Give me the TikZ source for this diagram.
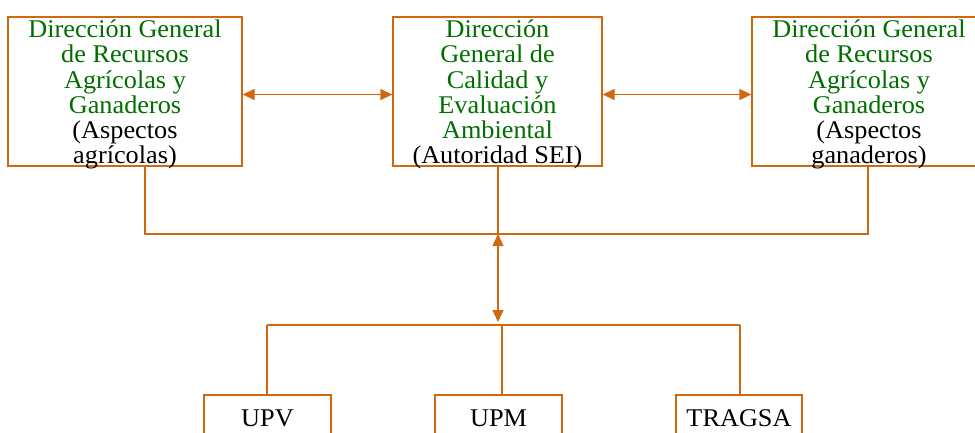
\documentclass[tikz,border=0pt]{standalone}
\usepackage{fontspec}
\setmainfont{Liberation Serif}[FakeStretch=1.03]
\usetikzlibrary{arrows.meta}
\definecolor{lineor}{RGB}{208,104,16}
\definecolor{txtgreen}{RGB}{0,110,0}
\tikzset{
  boxnode/.style={draw=lineor, line width=1.3pt, rectangle, inner sep=0pt},
  labeltext/.style={inner sep=0pt, align=center, font=\fontsize{25.5pt}{25.3pt}\selectfont},
  conn/.style={draw=lineor, line width=1.3pt},
  dbl/.style={conn, {Triangle[length=12pt,width=11pt]}-{Triangle[length=12pt,width=11pt]}}
}
\begin{document}
\begin{tikzpicture}[x=1pt,y=1pt]
\clip (0,0) rectangle (975,-432);
% top boxes
\node[boxnode, minimum width=234pt, minimum height=149pt] (L) at (125,-91.5) {};
\node[boxnode, minimum width=209pt, minimum height=149pt] (M) at (497.5,-91.5) {};
\node[boxnode, minimum width=234pt, minimum height=149pt] (R) at (869,-91.5) {};
\node[labeltext, anchor=north] (Lt) at (125,-19.5) {\textcolor{txtgreen}{Dirección General}\\\textcolor{txtgreen}{de Recursos}\\\textcolor{txtgreen}{Agrícolas y}\\\textcolor{txtgreen}{Ganaderos}\\(Aspectos\\agrícolas)};
\node[labeltext, anchor=north] (Mt) at (497.5,-19.5) {\textcolor{txtgreen}{Dirección}\\\textcolor{txtgreen}{General de}\\\textcolor{txtgreen}{Calidad y}\\\textcolor{txtgreen}{Evaluación}\\\textcolor{txtgreen}{Ambiental}\\(Autoridad SEI)};
\node[labeltext, anchor=north] (Rt) at (869,-19.5) {\textcolor{txtgreen}{Dirección General}\\\textcolor{txtgreen}{de Recursos}\\\textcolor{txtgreen}{Agrícolas y}\\\textcolor{txtgreen}{Ganaderos}\\(Aspectos\\ganaderos)};
% bottom boxes
\node[boxnode, minimum width=127pt, minimum height=70pt] (B1) at (267.5,-430) {};
\node[boxnode, minimum width=127pt, minimum height=70pt] (B2) at (498.5,-430) {};
\node[boxnode, minimum width=126pt, minimum height=70pt] (B3) at (739,-430) {};
\node[labeltext, anchor=base] (B1t) at (267.5,-426) {UPV};
\node[labeltext, anchor=base] (B2t) at (498.5,-426) {UPM};
\node[labeltext, anchor=base] (B3t) at (739,-426) {TRAGSA};
% horizontal double arrows
\draw[dbl] ([yshift=-3pt]L.east) -- ([yshift=-3pt]M.west);
\draw[dbl] ([yshift=-3pt]M.east) -- ([yshift=-3pt]R.west);
% upper junction
\coordinate (hL) at (145,-234);
\coordinate (hM) at (498,-234);
\coordinate (hR) at (868,-234);
\draw[conn] (hL |- L.south) -- (hL) -- (hR) -- (hR |- R.south);
\draw[conn] (hM |- M.south) -- (hM);
% vertical double arrow
\coordinate (lM) at (498,-322);
\draw[dbl] (hM) -- (lM);
% lower junction
\coordinate (gL) at (267,-325);
\coordinate (gM) at (502,-325);
\coordinate (gR) at (740,-325);
\draw[conn] (gL) -- (gR);
\draw[conn] (gL) -- (gL |- B1.north);
\draw[conn] (gM) -- (gM |- B2.north);
\draw[conn] (gR) -- (gR |- B3.north);
\end{tikzpicture}
\end{document}
